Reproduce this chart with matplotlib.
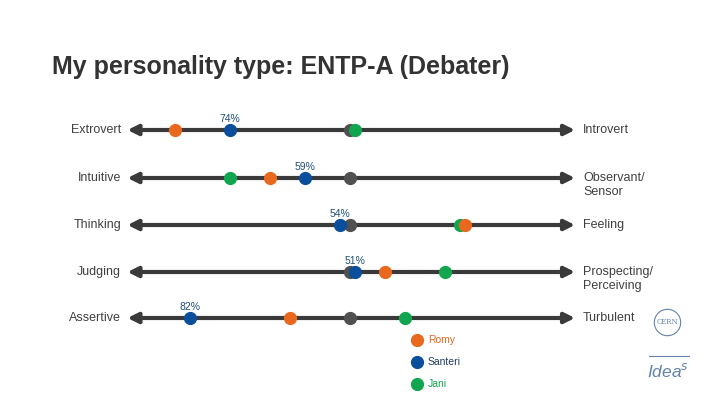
import matplotlib.pyplot as plt

# left trait share (%) for each person, one value per scale row
left_traits = ['Extrovert', 'Intuitive', 'Thinking', 'Judging', 'Assertive']
right_traits = ['Introvert', 'Observant/\nSensor', 'Feeling', 'Prospecting/\nPerceiving', 'Turbulent']
romy = [85, 66, 27, 43, 62]
santeri = [74, 59, 52, 49, 82]
jani = [49, 74, 28, 31, 39]
average = [50, 50, 50, 50, 50]
santeri_labels = ['74%', '59%', '54%', '51%', '82%']

names = ['Romy', 'Santeri', 'Jani']
colors = ['#E8681E', '#0B4F9C', '#12A550']
gray = '#505050'

fig = plt.figure(figsize=(7.2, 4.05), dpi=100)
ax = fig.add_axes([0, 0, 1, 1])
# 5 px per percent, 50% sits at pixel 350
ax.set_xlim(120, -24)
ax.set_ylim(405, 0)
ax.axis('off')

def px(x):
    return 50 - (x - 350) / 5

fig.text(52 / 720, 1 - 67 / 405, 'My personality type: ENTP-A (Debater)',
         fontsize=18, fontweight='bold', family='Liberation Sans',
         color='#333333', va='center', ha='left')

rows_y = [130, 178, 225, 272, 318]
for i, y in enumerate(rows_y):
    ax.annotate('', xy=(5, y), xytext=(94.5, y),
                arrowprops=dict(arrowstyle='<|-|>,head_length=0.6,head_width=0.3',
                                color='#3a3a3a', lw=3, shrinkA=0, shrinkB=0))
    ax.text(95.8, y, left_traits[i], ha='right', va='center', fontsize=9,
            color='#404040', family='Liberation Sans')
    ax.text(3.4, y - 6, right_traits[i], ha='left', va='top',
            fontsize=9, color='#404040', family='Liberation Sans', linespacing=1.25)
    ax.plot(average[i], y, 'o', color=gray, ms=8.5, zorder=3)
    ax.plot(jani[i], y, 'o', color=colors[2], ms=8.5, zorder=4)
    ax.plot(santeri[i], y, 'o', color=colors[1], ms=8.5, zorder=5)
    ax.plot(romy[i], y, 'o', color=colors[0], ms=8.5, zorder=5)
    ax.text(santeri[i], y - 11, santeri_labels[i], ha='center', va='center',
            fontsize=7.5, color='#1F4E79', family='Liberation Sans')

for j, name in enumerate(names):
    y = 340 + 22 * j
    ax.plot(px(417), y, 'o', color=colors[j], ms=8.5)
    ax.text(px(428), y, name, ha='left', va='center', fontsize=7.5,
            color=colors[j] if j != 1 else '#1F3A5F', family='Liberation Sans')

# CERN ideas logo
logo = '#6383AA'
ax.plot(px(667), 322, 'o', ms=19, mfc='none', mec=logo, mew=0.8)
ax.text(px(667), 322, 'CERN', fontsize=5, ha='center', va='center',
        color=logo, family='DejaVu Serif')
ax.plot([px(649), px(689)], [356, 356], color=logo, lw=0.8)
ax.text(px(668), 371, 'Idea$^s$', fontsize=12.5, ha='center', va='center',
        color=logo, style='italic', family='Liberation Sans')

fig.savefig('out.png', dpi=100)
